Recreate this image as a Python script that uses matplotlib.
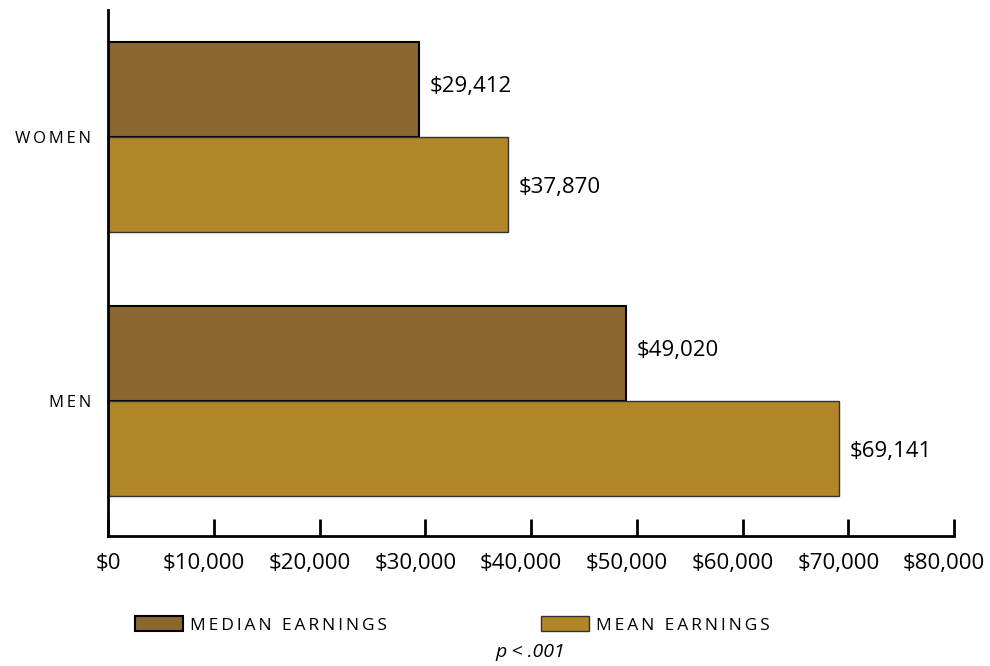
import numpy as np
import matplotlib
matplotlib.use('Agg')
import matplotlib.pyplot as plt
import matplotlib.transforms as mtransforms
from matplotlib.patches import Patch

# Daten
groups = ['MEN', 'WOMEN']
median_earnings = [49020, 29412]
mean_earnings = [69141, 37870]
xticks = np.arange(0, 80001, 10000)
xlabels = ['$0'] + ['${:,}'.format(v) for v in xticks[1:]]
legend_labels = ['MEDIAN EARNINGS', 'MEAN EARNINGS']

plt.rcParams['font.family'] = ['Open Sans', 'DejaVu Sans']

c_median = '#8a6630'
c_mean = '#b08626'


def spaced(s):
    # Buchstaben mit schmalem Leerzeichen sperren
    return '\u2009'.join(s)


fig = plt.figure(figsize=(9.9, 6.66), dpi=100)
ax = fig.add_axes([108/990, 1-536/666, (954-108)/990, (536-10)/666])

y = np.arange(len(groups))
h = 0.36
ax.barh(y + h/2, median_earnings, height=h, color=c_median,
        edgecolor='black', linewidth=1.5)
ax.barh(y - h/2, mean_earnings, height=h, color=c_mean,
        edgecolor='#333333', linewidth=1.0)

for i in range(len(groups)):
    ax.text(median_earnings[i] + 1000, y[i] + h/2 + 0.01, '${:,}'.format(median_earnings[i]),
            va='center', ha='left', fontsize=16)
    ax.text(mean_earnings[i] + 1000, y[i] - h/2 - 0.01, '${:,}'.format(mean_earnings[i]),
            va='center', ha='left', fontsize=16)

ax.set_xlim(0, 80000)
ax.set_ylim(-0.511, 1.481)
ax.set_xticks(xticks)
ax.set_xticklabels(xlabels, fontsize=16)
ax.set_yticks(y)
ax.set_yticklabels([spaced(g) for g in groups], fontsize=12)
ax.tick_params(axis='x', direction='in', length=12, width=2, pad=12)
ax.tick_params(axis='y', length=0, pad=12)

# Beschriftungen ausser $0 etwas nach links
shift = mtransforms.ScaledTranslation(-10/100, 0, fig.dpi_scale_trans)
for lab in ax.get_xticklabels()[1:]:
    lab.set_transform(lab.get_transform() + shift)

for s in ['top', 'right']:
    ax.spines[s].set_visible(False)
for s in ['left', 'bottom']:
    ax.spines[s].set_linewidth(2)

handles = [Patch(facecolor=c_median, edgecolor='black', linewidth=1.5),
           Patch(facecolor=c_mean, edgecolor='#333333', linewidth=1.0)]
fig.legend(handles, [spaced(l) for l in legend_labels], ncol=2,
           loc='center left', bbox_to_anchor=(135/990, 1-625/666),
           frameon=False, fontsize=12.5, handlelength=2.75, handleheight=0.92,
           handletextpad=0.4, columnspacing=8.9, borderpad=0, borderaxespad=0)

fig.text(530/990, 1-652/666, 'p < .001', style='italic', fontsize=14,
         ha='center', va='center')

fig.savefig('out.png', dpi=100)
